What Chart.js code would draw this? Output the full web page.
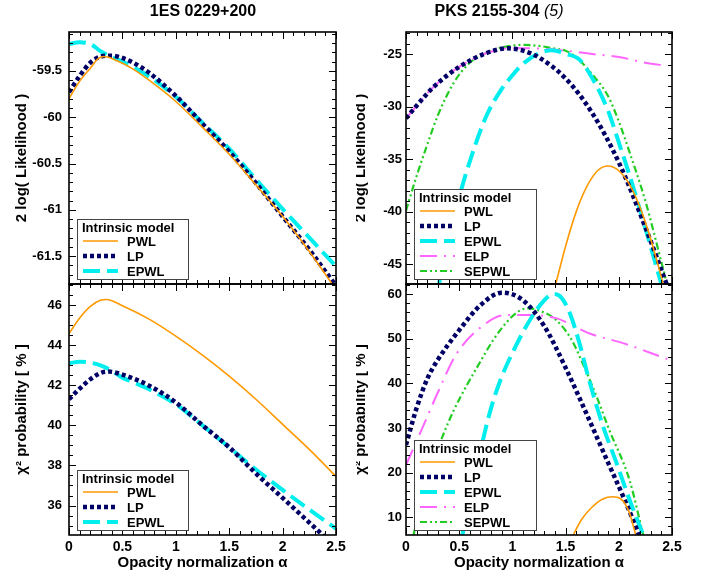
<!DOCTYPE html>
<html>
<head>
<meta charset="utf-8">
<script src="https://cdn.jsdelivr.net/npm/chart.js@4.4.1/dist/chart.umd.min.js"></script>
<style>
  body { margin: 0; background: #fff; width: 712px; height: 577px; position: relative; overflow: hidden;
         font-family: "Liberation Sans", Arial, sans-serif; }
  canvas { position: absolute; }
  .title { position: absolute; top: 2px; font-weight: bold; font-size: 16px; white-space: nowrap;
           transform: translateX(-50%); z-index: 2; }
  .title i { font-weight: normal; }
</style>
</head>
<body>
<div class="title" style="left:203px">1ES 0229+200</div>
<div class="title" style="left:499px">PKS 2155-304 <i>(5)</i></div>
<canvas id="tl" width="356" height="294" style="left:0;top:0"></canvas>
<canvas id="tr" width="356" height="294" style="left:356px;top:0"></canvas>
<canvas id="bl" width="356" height="307" style="left:0;top:270px"></canvas>
<canvas id="br" width="356" height="307" style="left:356px;top:270px"></canvas>
<script>
// ---- data ----
const xTicks = [0, 0.5, 1, 1.5, 2, 2.5];

// 1ES 0229+200, 2 log(Likelihood)
const tlTicks = [-61.5, -61, -60.5, -60, -59.5];
const tlPwlX  = [0, 0.1, 0.2, 0.27, 0.33, 0.45, 0.6, 0.75, 1, 1.25, 1.5, 1.75, 2, 2.25, 2.5];
const tlPwlY  = [-59.80, -59.61, -59.47, -59.37, -59.345, -59.39, -59.48, -59.60, -59.83, -60.11, -60.40, -60.73, -61.07, -61.45, -61.86];
const tlLpX   = [0, 0.1, 0.2, 0.3, 0.4, 0.5, 0.6, 0.75, 1, 1.25, 1.5, 1.75, 2, 2.25, 2.5];
const tlLpY   = [-59.73, -59.555, -59.41, -59.345, -59.335, -59.36, -59.41, -59.52, -59.77, -60.07, -60.37, -60.71, -61.07, -61.43, -61.82];
const tlEpwlX = [0, 0.1, 0.2, 0.3, 0.4, 0.5, 0.75, 1, 1.25, 1.5, 1.75, 2, 2.25, 2.5];
const tlEpwlY = [-59.21, -59.19, -59.21, -59.29, -59.35, -59.40, -59.56, -59.78, -60.06, -60.34, -60.67, -60.99, -61.30, -61.61];

// 1ES 0229+200, chi2 probability
const blTicks = [36, 38, 40, 42, 44, 46];
const blPwlX  = [0, 0.1, 0.2, 0.3, 0.35, 0.5, 0.75, 1, 1.25, 1.5, 1.75, 2, 2.25, 2.5];
const blPwlY  = [44.58, 45.35, 45.93, 46.25, 46.28, 45.97, 45.3, 44.45, 43.5, 42.45, 41.3, 40.05, 38.8, 37.45];
const blLpX   = [0, 0.1, 0.2, 0.3, 0.37, 0.5, 0.75, 1, 1.25, 1.5, 1.75, 2, 2.25, 2.5];
const blLpY   = [41.3, 41.83, 42.3, 42.62, 42.68, 42.53, 41.98, 41.14, 40.0, 38.9, 37.6, 36.38, 35.15, 33.9];
const blEpwlX = [0, 0.1, 0.2, 0.3, 0.4, 0.5, 0.6, 0.75, 1, 1.25, 1.5, 1.75, 2, 2.25, 2.5];
const blEpwlY = [43.1, 43.17, 43.13, 42.98, 42.73, 42.38, 42.15, 41.8, 41.05, 40.0, 38.9, 37.8, 36.78, 35.8, 34.85];

// PKS 2155-304, 2 log(Likelihood)
const trTicks  = [-45, -40, -35, -30, -25];
const trPwlX   = [1.4, 1.5, 1.6, 1.7, 1.8, 1.9, 2, 2.1, 2.2, 2.3, 2.42];
const trPwlY   = [-47.2, -43.3, -40.0, -37.6, -36.1, -35.65, -36.1, -37.4, -39.6, -42.6, -47.0];
const trLpX    = [0, 0.1, 0.25, 0.5, 0.75, 0.95, 1.1, 1.25, 1.5, 1.75, 2, 2.25, 2.5];
const trLpY    = [-31.1, -29.9, -28.2, -26.2, -24.9, -24.43, -24.65, -25.3, -27.3, -30.6, -35.3, -41.5, -48.3];
const trEpwlX  = [0.31, 0.4, 0.5, 0.6, 0.75, 0.9, 1, 1.1, 1.25, 1.37, 1.5, 1.63, 1.76, 1.9, 2, 2.1, 2.25, 2.4];
const trEpwlY  = [-46.9, -42.5, -38.6, -35.2, -31.0, -28.3, -27.0, -25.9, -24.9, -24.6, -24.95, -25.5, -27.45, -30.4, -33.4, -36.5, -41.6, -46.9];
const trElpX   = [0, 0.1, 0.25, 0.5, 0.75, 1, 1.25, 1.5, 1.75, 2, 2.25, 2.45];
const trElpY   = [-31.1, -29.9, -28.2, -26.2, -24.9, -24.42, -24.45, -24.65, -24.97, -25.25, -25.8, -26.1];
const trSepwlX = [0, 0.1, 0.2, 0.3, 0.45, 0.6, 0.75, 0.9, 1.1, 1.25, 1.4, 1.5, 1.6, 1.75, 1.9, 2, 2.1, 2.25, 2.4, 2.5];
const trSepwlY = [-39.9, -36.6, -33.6, -30.8, -27.7, -25.8, -24.9, -24.35, -24.1, -24.2, -24.45, -24.65, -25.3, -26.9, -29.0, -31.4, -34.3, -39.0, -44.8, -48.8];

// PKS 2155-304, chi2 probability
const brTicks  = [10, 20, 30, 40, 50, 60];
const brPwlX   = [1.55, 1.65, 1.75, 1.85, 1.94, 2.02, 2.1, 2.17];
const brPwlY   = [5.0, 9.5, 12.3, 14.1, 14.6, 14.1, 11.0, 5.0];
const brLpX    = [0, 0.1, 0.2, 0.3, 0.5, 0.7, 0.9, 1.1, 1.3, 1.5, 1.7, 1.9, 2.05, 2.2];
const brLpY    = [26.2, 34.5, 41, 45.3, 51.9, 57.5, 60.3, 58.6, 52.8, 43.5, 33, 22.2, 14.2, 5.5];
const brEpwlX  = [0.53, 0.6, 0.7, 0.8, 0.9, 1, 1.1, 1.2, 1.3, 1.38, 1.46, 1.54, 1.63, 1.72, 1.85, 1.98, 2.1, 2.23];
const brEpwlY  = [6, 14, 25, 34.5, 41.5, 46.8, 51.5, 55.5, 58.6, 60, 59.2, 55.7, 49, 40.8, 30.5, 22.1, 14, 6];
const brElpX   = [0, 0.15, 0.3, 0.47, 0.69, 0.94, 1.15, 1.41, 1.72, 2.04, 2.46];
const brElpY   = [21.7, 29.8, 38, 46.4, 52.3, 55.3, 55.3, 54.6, 51.2, 49, 45.4];
const brSepwlX = [0.07, 0.15, 0.25, 0.35, 0.45, 0.57, 0.69, 0.82, 0.95, 1.07, 1.15, 1.25, 1.41, 1.55, 1.66, 1.8, 1.91, 2.1, 2.23];
const brSepwlY = [6, 14, 22, 28.5, 34, 39.5, 44.5, 49.7, 53.8, 56.3, 56.8, 56.3, 54.2, 50, 44.5, 36.5, 29.6, 18.4, 6];

// ---- styling ----
const FONT = "'Liberation Sans', Arial, sans-serif";
const STYLE = {
  PWL:   { borderColor: '#ff9900', borderWidth: 1.6 },
  LP:    { borderColor: '#000066', borderWidth: 4.5, borderDash: [4, 3] },
  EPWL:  { borderColor: '#00eeee', borderWidth: 4, borderDash: [17, 7] },
  ELP:   { borderColor: '#ff66ff', borderWidth: 2, borderDash: [17, 7, 2, 7] },
  SEPWL: { borderColor: '#22cc22', borderWidth: 2.2, borderDash: [7, 3, 2, 3, 2, 3] },
};

function series(label, xs, ys) {
  return Object.assign({
    label: label,
    data: xs.map((x, i) => ({ x: x, y: ys[i] })),
    pointRadius: 0,
    fill: false,
    tension: 0.4,
    cubicInterpolationMode: 'monotone',
    capBezierPoints: false,
  }, STYLE[label]);
}

// frame with inward major/minor ticks on all four sides
const frameTicks = {
  id: 'frameTicks',
  afterDatasetsDraw(chart, args, opts) {
    const { ctx, chartArea: a, scales: { x, y } } = chart;
    ctx.save();
    ctx.strokeStyle = '#000';
    ctx.lineWidth = 1;
    ctx.setLineDash([]);
    ctx.beginPath();
    const minor = (scale, step) => {
      const out = [];
      for (let n = Math.ceil(scale.min / step - 1e-6); n * step <= scale.max + 1e-6; n++) out.push(n * step);
      return out;
    };
    const tickX = (v, len) => {
      const p = Math.round(x.getPixelForValue(v)) + 0.5;
      ctx.moveTo(p, a.bottom); ctx.lineTo(p, a.bottom - len);
      ctx.moveTo(p, a.top); ctx.lineTo(p, a.top + len);
    };
    const tickY = (v, len) => {
      const p = Math.round(y.getPixelForValue(v)) + 0.5;
      ctx.moveTo(a.left, p); ctx.lineTo(a.left + len, p);
      ctx.moveTo(a.right, p); ctx.lineTo(a.right - len, p);
    };
    minor(x, 0.1).forEach(v => tickX(v, 4));
    x.ticks.forEach(t => tickX(t.value, 7));
    minor(y, opts.yMinor).forEach(v => tickY(v, 4));
    y.ticks.forEach(t => tickY(t.value, 7));
    ctx.stroke();
    ctx.lineWidth = 1.6;
    ctx.strokeRect(a.left, a.top, a.right - a.left, a.bottom - a.top);
    ctx.restore();
  }
};

// boxed legend in the lower left corner of the plot
const boxLegend = {
  id: 'boxLegend',
  afterDraw(chart, args, opts) {
    const { ctx, chartArea: a } = chart;
    const sets = chart.data.datasets;
    const left = a.left + 8;
    const h = 15 * sets.length + 15;
    const top = a.bottom - 5 - h;
    ctx.save();
    ctx.fillStyle = '#fff';
    ctx.fillRect(left, top, opts.width, h);
    ctx.strokeStyle = '#444';
    ctx.lineWidth = 1;
    ctx.strokeRect(left + 0.5, top + 0.5, opts.width, h);
    ctx.fillStyle = '#000';
    ctx.font = 'bold 13px ' + FONT;
    ctx.textBaseline = 'middle';
    ctx.fillText('Intrinsic model', left + 5, top + 9);
    sets.forEach((ds, i) => {
      const yy = top + 22 + 15 * i;
      ctx.beginPath();
      ctx.strokeStyle = ds.borderColor;
      ctx.lineWidth = ds.borderWidth;
      ctx.setLineDash(ds.borderDash || []);
      ctx.moveTo(left + 6, yy);
      ctx.lineTo(left + 41, yy);
      ctx.stroke();
      ctx.fillText(ds.label, left + 50, yy + 1);
    });
    ctx.restore();
  }
};

function panel(id, cfg) {
  return new Chart(document.getElementById(id), {
    type: 'line',
    data: { datasets: cfg.datasets },
    options: {
      responsive: false,
      animation: false,
      events: [],
      layout: { padding: cfg.padding },
      plugins: {
        legend: { display: false },
        tooltip: { enabled: false },
        frameTicks: { yMinor: cfg.yMinor },
        boxLegend: { width: cfg.legendWidth },
      },
      scales: {
        x: {
          type: 'linear',
          min: 0,
          max: 2.5,
          grid: { display: false, drawTicks: false },
          border: { display: false },
          afterBuildTicks: s => { s.ticks = xTicks.map(v => ({ value: v })); },
          afterFit: s => { s.height = cfg.xHeight; s.paddingLeft = 0; s.paddingRight = 0; },
          ticks: {
            display: cfg.bottom,
            color: '#000',
            padding: 4,
            maxRotation: 0,
            autoSkip: false,
            font: { family: FONT, size: 14, weight: 'bold' },
            callback: v => String(v),
          },
          title: {
            display: cfg.bottom,
            text: 'Opacity normalization α',
            color: '#000',
            font: { family: FONT, size: 15, weight: 'bold' },
            padding: { top: 0, bottom: 5 },
          },
        },
        y: {
          type: 'linear',
          min: cfg.yMin,
          max: cfg.yMax,
          grid: { display: false, drawTicks: false },
          border: { display: false },
          afterBuildTicks: s => { s.ticks = cfg.yTicks.map(v => ({ value: v })); },
          afterFit: s => { s.width = cfg.yWidth; s.paddingTop = 0; s.paddingBottom = 0; },
          ticks: {
            color: '#000',
            padding: cfg.yPad,
            autoSkip: false,
            font: { family: FONT, size: 13, weight: 'bold' },
            callback: v => String(v),
          },
          title: {
            display: true,
            text: cfg.yTitle,
            color: '#000',
            font: { family: FONT, size: 15, weight: 'bold' },
            padding: { top: cfg.yTitlePad, bottom: 0 },
          },
        },
      },
    },
    plugins: [frameTicks, boxLegend],
  });
}

const LIKE = '2 log( Likelihood )';
const PROB = 'χ² probability [ % ]';

panel('tl', {
  datasets: [series('PWL', tlPwlX, tlPwlY), series('LP', tlLpX, tlLpY), series('EPWL', tlEpwlX, tlEpwlY)],
  padding: { left: 0, right: 20, top: 32, bottom: 0 },
  yMin: -61.8, yMax: -59.08, yTicks: tlTicks, yMinor: 0.1,
  yWidth: 69, yPad: 7, yTitle: LIKE, yTitlePad: 13,
  xHeight: 10, bottom: false, legendWidth: 111,
});
panel('bl', {
  datasets: [series('PWL', blPwlX, blPwlY), series('LP', blLpX, blLpY), series('EPWL', blEpwlX, blEpwlY)],
  padding: { left: 0, right: 20, top: 14, bottom: 0 },
  yMin: 34.53, yMax: 47.05, yTicks: blTicks, yMinor: 0.5,
  yWidth: 69, yPad: 7, yTitle: PROB, yTitlePad: 13,
  xHeight: 42, bottom: true, legendWidth: 111,
});
panel('tr', {
  datasets: [series('PWL', trPwlX, trPwlY), series('LP', trLpX, trLpY), series('EPWL', trEpwlX, trEpwlY),
             series('ELP', trElpX, trElpY), series('SEPWL', trSepwlX, trSepwlY)],
  padding: { left: 0, right: 40, top: 32, bottom: 0 },
  yMin: -46.9, yMax: -22.87, yTicks: trTicks, yMinor: 1,
  yWidth: 50, yPad: 4, yTitle: LIKE, yTitlePad: -4,
  xHeight: 10, bottom: false, legendWidth: 122,
});
panel('br', {
  datasets: [series('PWL', brPwlX, brPwlY), series('LP', brLpX, brLpY), series('EPWL', brEpwlX, brEpwlY),
             series('ELP', brElpX, brElpY), series('SEPWL', brSepwlX, brSepwlY)],
  padding: { left: 0, right: 40, top: 14, bottom: 0 },
  yMin: 6.04, yMax: 62.24, yTicks: brTicks, yMinor: 2,
  yWidth: 50, yPad: 4, yTitle: PROB, yTitlePad: -4,
  xHeight: 42, bottom: true, legendWidth: 122,
});
</script>
</body>
</html>
